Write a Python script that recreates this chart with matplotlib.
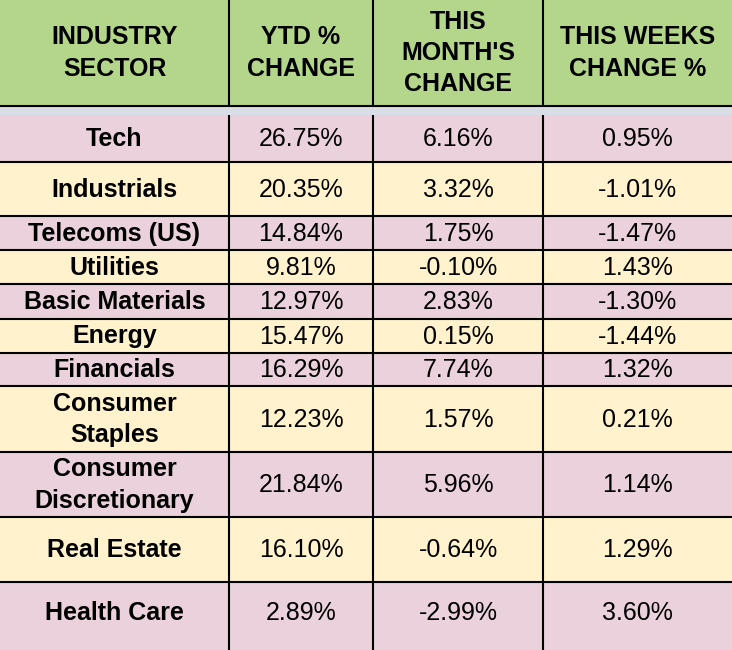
import matplotlib
matplotlib.use("Agg")
import matplotlib.pyplot as plt
from matplotlib.patches import Rectangle

# dane tabeli
headers = ["INDUSTRY\nSECTOR", "YTD %\nCHANGE", "THIS\nMONTH'S\nCHANGE", "THIS WEEKS\nCHANGE %"]
sectors = ["Tech", "Industrials", "Telecoms (US)", "Utilities", "Basic Materials", "Energy",
           "Financials", "Consumer\nStaples", "Consumer\nDiscretionary", "Real Estate", "Health Care"]
ytd_change = [26.75, 20.35, 14.84, 9.81, 12.97, 15.47, 16.29, 12.23, 21.84, 16.10, 2.89]
month_change = [6.16, 3.32, 1.75, -0.10, 2.83, 0.15, 7.74, 1.57, 5.96, -0.64, -2.99]
week_change = [0.95, -1.01, -1.47, 1.43, -1.30, -1.44, 1.32, 0.21, 1.14, 1.29, 3.60]

# uklad (piksele)
W, H = 732, 650
COL_EDGES = [0, 229, 373, 543, W]
HEADER_BOTTOM = 106
BAND_BOTTOM = 115
ROW_EDGES = [115, 162, 215.5, 250, 284, 318.5, 352.5, 386, 451.5, 516.5, 581.5, 642]

GREEN = "#b4d68a"
PINK = "#ead1dc"
YELLOW = "#fff2cc"
GRAY = "#d9dde5"
LW = 1.5
LINESP = 1.38

plt.rcParams["font.family"] = ["Liberation Sans", "DejaVu Sans"]

fig = plt.figure(figsize=(W / 100, H / 100), dpi=100)
ax = fig.add_axes([0, 0, 1, 1])
ax.set_xlim(0, W)
ax.set_ylim(H, 0)
ax.axis("off")

# naglowek
ax.add_patch(Rectangle((0, 0), W, HEADER_BOTTOM, color=GREEN, lw=0))
ax.add_patch(Rectangle((0, HEADER_BOTTOM), W, BAND_BOTTOM - HEADER_BOTTOM, color=GRAY, lw=0))
for i, h in enumerate(headers):
    xc = (COL_EDGES[i] + COL_EDGES[i + 1]) / 2
    ax.text(xc, HEADER_BOTTOM / 2, h, ha="center", va="center", fontsize=18,
            fontweight="bold", linespacing=LINESP, multialignment="center")

# wiersze
for r, name in enumerate(sectors):
    top = ROW_EDGES[r]
    bottom = ROW_EDGES[r + 1]
    fill_bottom = H if r == len(sectors) - 1 else bottom
    ax.add_patch(Rectangle((0, top), W, fill_bottom - top,
                           color=PINK if r % 2 == 0 else YELLOW, lw=0))
    yc = (top + bottom) / 2 + 1
    vals = [name, f"{ytd_change[r]:.2f}%", f"{month_change[r]:.2f}%", f"{week_change[r]:.2f}%"]
    for c, v in enumerate(vals):
        xc = (COL_EDGES[c] + COL_EDGES[c + 1]) / 2
        ax.text(xc, yc, v, ha="center", va="center", fontsize=18,
                fontweight="bold" if c == 0 else "normal",
                linespacing=LINESP, multialignment="center")

# linie siatki
ax.plot([0, W], [HEADER_BOTTOM, HEADER_BOTTOM], color="black", lw=LW, solid_capstyle="butt")
for y in ROW_EDGES[1:-1]:
    ax.plot([0, W], [y, y], color="black", lw=LW, solid_capstyle="butt")
for x in COL_EDGES[1:-1]:
    ax.plot([x, x], [0, HEADER_BOTTOM], color="black", lw=LW, solid_capstyle="butt")
    ax.plot([x, x], [BAND_BOTTOM, H], color="black", lw=LW, solid_capstyle="butt")

plt.savefig("out.png", dpi=100)
